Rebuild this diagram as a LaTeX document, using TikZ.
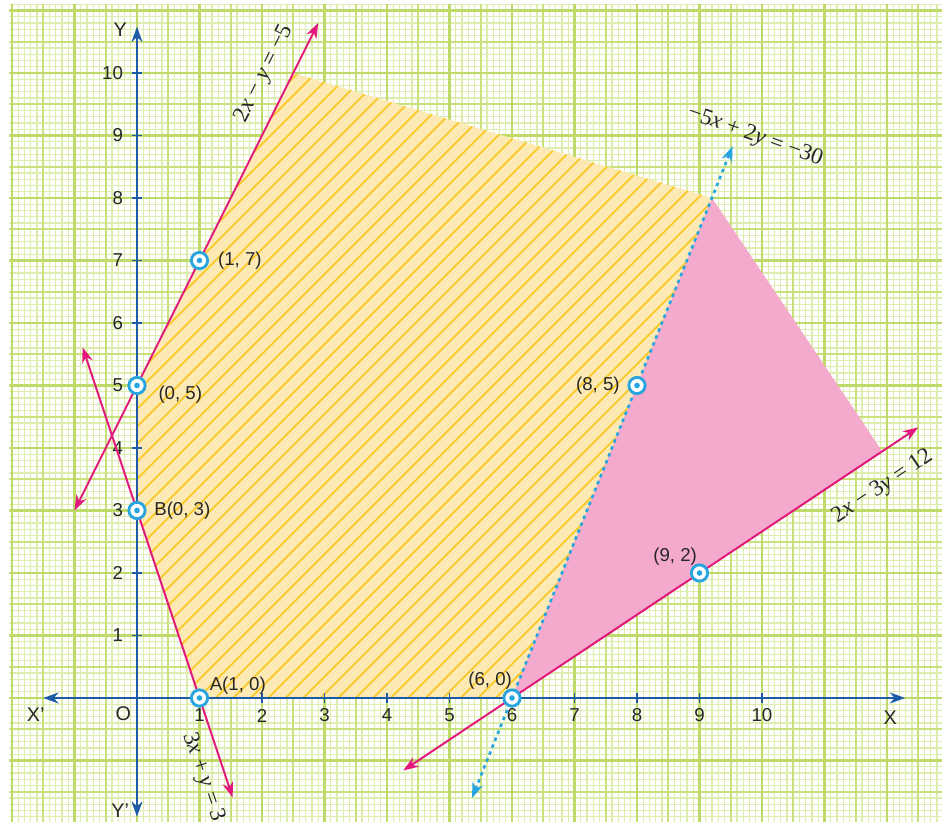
\documentclass[tikz,border=0pt]{standalone}
\usepackage{fontspec}
\setmainfont{Liberation Sans}
\newfontfamily\eqfont{Liberation Serif}
\usepackage{tikz}
\usetikzlibrary{arrows.meta,positioning}

\definecolor{gridminor}{RGB}{220,237,175}
\definecolor{gridhalf}{RGB}{200,225,125}
\definecolor{gridmajor}{RGB}{190,219,105}
\definecolor{axisblue}{RGB}{30,90,165}
\definecolor{linemag}{RGB}{228,24,124}
\definecolor{dotcyan}{RGB}{40,165,222}
\definecolor{regyellow}{RGB}{253,233,180}
\definecolor{hatchyellow}{RGB}{250,200,40}
\definecolor{regpink}{RGB}{243,170,204}

\newcommand{\iv}[1]{{\itshape #1}}

\begin{document}
\begin{tikzpicture}[
    axisline/.style={axisblue, line width=0.9pt, {Stealth[length=7pt,width=5pt]}-{Stealth[length=7pt,width=5pt]}},
    eqline/.style={linemag, line width=0.9pt, {Stealth[length=7pt,width=5pt]}-{Stealth[length=7pt,width=5pt]}},
    dotline/.style={dotcyan, line width=1.2pt, dash pattern=on 1.6pt off 1.8pt, {Stealth[length=7pt,width=5pt]}-{Stealth[length=7pt,width=5pt]}},
    hatch/.style={hatchyellow, line width=0.8pt},
    pt/.style={circle, draw=dotcyan, line width=1.3pt, fill=white, minimum size=0.26cm, inner sep=0pt,
        path picture={\fill[dotcyan] (path picture bounding box.center) circle (0.045);}},
    lbl/.style={font=\fontsize{8.5}{10}\selectfont, text=black!85},
    eqlbl/.style={font=\fontsize{10.5}{12}\selectfont\eqfont, text=black!85, inner sep=0pt},
  ]
    \useasboundingbox (-2.192,-1.984) rectangle (12.88,11.168);

    % graph paper
    \begin{scope}
      \clip (-2.04,-1.984) rectangle (12.88,11.09);
      \draw[gridminor, line width=0.6pt, step=0.1] (-2.1,-2.1) grid (13,11.2);
      \draw[gridhalf, line width=0.8pt, step=0.5] (-2.1,-2.1) grid (13,11.2);
      \draw[gridmajor, line width=1.1pt, step=1] (-2.1,-2.1) grid (13,11.2);
    \end{scope}

    % corner points
    \coordinate (ca) at (1,0);
    \coordinate (cb) at (0,3);
    \coordinate (cc) at (0,5);
    \coordinate (cd) at (2.5,10);
    \coordinate (ce) at (9.2,8);
    \coordinate (cf) at (6,0);
    \coordinate (cg) at (11.92,3.95);

    % yellow hatched region
    \fill[regyellow] (ca) -- (cb) -- (cc) -- (cd) -- (ce) -- (cf) -- cycle;
    \begin{scope}
      \clip (ca) -- (cb) -- (cc) -- (cd) -- (ce) -- (cf) -- cycle;
      \foreach \i in {0,...,52}
        \draw[hatch] (-9.7+0.28*\i,-2) -- ++(14,14);
    \end{scope}

    % pink region
    \fill[regpink] (cf) -- (ce) -- (cg) -- cycle;

    % axes
    \coordinate (xl) at (-1.5,0);
    \coordinate (xr) at (12.29,0);
    \coordinate (yb) at (0,-1.9);
    \coordinate (yt) at (0,10.74);
    \draw[axisline] (xl) -- (xr);
    \draw[axisline] (yb) -- (yt);
    \foreach \x in {1,...,10} {
      \draw[axisblue, line width=0.8pt] (\x,-0.08) -- (\x,0.08);
      \node[lbl] (tx\x) at (\x,-0.28) {\x};
    }
    \foreach \y in {1,...,10} {
      \draw[axisblue, line width=0.8pt] (-0.08,\y) -- (0.08,\y);
      \node[lbl, anchor=east] (ty\y) at (-0.1,\y) {\y};
    }
    \node[lbl, font=\fontsize{9}{10}\selectfont] (lxl) at (-1.62,-0.27) {X'};
    \node[lbl, font=\fontsize{9}{10}\selectfont] (lo) at (-0.22,-0.25) {O};
    \node[lbl, font=\fontsize{9}{10}\selectfont] (lxr) at (12.05,-0.32) {X};
    \node[lbl, font=\fontsize{9}{10}\selectfont] (lyt) at (-0.27,10.69) {Y};
    \node[lbl, font=\fontsize{9}{10}\selectfont] (lyb) at (-0.27,-1.8) {Y'};

    % boundary lines
    \coordinate (l1a) at (-1,3);
    \coordinate (l1b) at (2.9,10.8);
    \coordinate (l2a) at (-0.87,5.61);
    \coordinate (l2b) at (1.53,-1.59);
    \coordinate (l3a) at (4.26,-1.16);
    \coordinate (l3b) at (12.5,4.33);
    \coordinate (l4a) at (5.36,-1.6);
    \coordinate (l4b) at (9.53,8.83);
    \draw[eqline] (l1a) -- (l1b);
    \draw[eqline] (l2a) -- (l2b);
    \draw[eqline] (l3a) -- (l3b);
    \draw[dotline] (l4a) -- (l4b);

    % equations
    \node[eqlbl, rotate=63.4] (eq1) at (2.04,9.99) {2\iv{x} − \iv{y} = −5};
    \node[eqlbl, rotate=-71.6] (eq2) at (1.06,-1.27) {3\iv{x} + \iv{y} = 3};
    \node[eqlbl, rotate=-19.8] (eq3) at (9.89,8.98) {−5\iv{x} + 2\iv{y} = −30};
    \node[eqlbl, rotate=33.7] (eq4) at (11.93,3.38) {2\iv{x} − 3\iv{y} = 12};

    % marked points
    \node[pt] (p17) at (1,7) {};
    \node[pt] (p05) at (0,5) {};
    \node[pt] (p03) at (0,3) {};
    \node[pt] (p10) at (1,0) {};
    \node[pt] (p60) at (6,0) {};
    \node[pt] (p85) at (8,5) {};
    \node[pt] (p92) at (9,2) {};

    \node[lbl, right=0.02 of p17] (t17) {(1, 7)};
    \node[lbl, anchor=west] (t05) at (0.22,4.85) {(0, 5)};
    \node[lbl, right=0.0 of p03] (t03) {B(0, 3)};
    \node[lbl, anchor=west] (t10) at (1.04,0.19) {A(1, 0)};
    \node[lbl] (t60) at (5.65,0.27) {(6, 0)};
    \node[lbl, left=0.0 of p85] (t85) {(8, 5)};
    \node[lbl] (t92) at (8.61,2.26) {(9, 2)};
\end{tikzpicture}
\end{document}
